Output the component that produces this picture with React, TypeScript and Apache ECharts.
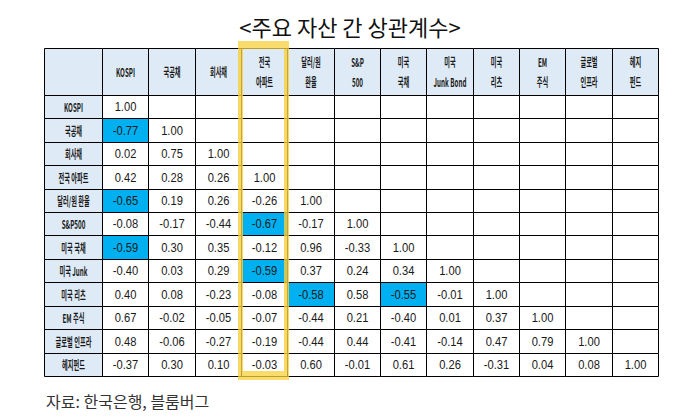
import React, { useEffect, useRef } from "react";
import * as echarts from "echarts";

const titleText = "<주요 자산 간 상관계수>";
const sourceText = "자료: 한국은행, 블룸버그";

const colLabels = [
  "KOSPI", "국공채", "회사채", "전국\n아파트", "달러/원\n환율", "S&P\n500",
  "미국\n국채", "미국\nJunk Bond", "미국\n리츠", "EM\n주식", "글로벌\n인프라", "헤지\n펀드",
];

const rowLabels = [
  "KOSPI", "국공채", "회사채", "전국 아파트", "달러/원 환율", "S&P500",
  "미국 국채", "미국 Junk", "미국 리츠", "EM 주식", "글로벌 인프라", "헤지펀드",
];

// lower triangle of the correlation matrix, row by row
const corr: number[][] = [
  [1.0],
  [-0.77, 1.0],
  [0.02, 0.75, 1.0],
  [0.42, 0.28, 0.26, 1.0],
  [-0.65, 0.19, 0.26, -0.26, 1.0],
  [-0.08, -0.17, -0.44, -0.67, -0.17, 1.0],
  [-0.59, 0.3, 0.35, -0.12, 0.96, -0.33, 1.0],
  [-0.4, 0.03, 0.29, -0.59, 0.37, 0.24, 0.34, 1.0],
  [0.4, 0.08, -0.23, -0.08, -0.58, 0.58, -0.55, -0.01, 1.0],
  [0.67, -0.02, -0.05, -0.07, -0.44, 0.21, -0.4, 0.01, 0.37, 1.0],
  [0.48, -0.06, -0.27, -0.19, -0.44, 0.44, -0.41, -0.14, 0.47, 0.79, 1.0],
  [-0.37, 0.3, 0.1, -0.03, 0.6, -0.01, 0.61, 0.26, -0.31, 0.04, 0.08, 1.0],
];

const highlightBelow = -0.55;

const HEADER_BG = "#DEEAF6";
const HIGHLIGHT_BG = "#00B0F0";
const LABEL_W = 1.25; // first column is wider than a data column
const HEADER_H = 2; // header row is two rows tall

type Cell = { x0: number; y0: number; x1: number; y1: number; text: string; fill: string; label: boolean };

const buildCells = (): Cell[] => {
  const cells: Cell[] = [];
  const n = colLabels.length;
  cells.push({ x0: -LABEL_W, y0: -HEADER_H, x1: 0, y1: 0, text: "", fill: HEADER_BG, label: true });
  colLabels.forEach((t, c) => {
    cells.push({ x0: c, y0: -HEADER_H, x1: c + 1, y1: 0, text: t, fill: HEADER_BG, label: true });
  });
  rowLabels.forEach((t, r) => {
    cells.push({ x0: -LABEL_W, y0: r, x1: 0, y1: r + 1, text: t, fill: HEADER_BG, label: true });
    for (let c = 0; c < n; c++) {
      const v = corr[r][c];
      const has = v !== undefined;
      cells.push({
        x0: c, y0: r, x1: c + 1, y1: r + 1,
        text: has ? v.toFixed(2) : "",
        fill: has && v <= highlightBelow ? HIGHLIGHT_BG : "#ffffff",
        label: false,
      });
    }
  });
  return cells;
};

const CorrTable: React.FC = () => {
  const chartRef = useRef<HTMLDivElement>(null);

  useEffect(() => {
    if (!chartRef.current) return;
    const myChart = echarts.init(chartRef.current, null, { renderer: "svg" });
    const cells = buildCells();

    const options = {
      animation: false,
      title: [
        {
          text: titleText,
          left: "center",
          top: 10,
          textStyle: { fontFamily: "Noto Sans CJK KR", fontSize: 22, fontWeight: "normal", color: "#111" },
        },
        {
          text: sourceText,
          left: 41,
          top: 388,
          textStyle: { fontFamily: "Noto Sans CJK KR", fontSize: 16, fontWeight: "normal", color: "#333" },
        },
      ],
      grid: { left: 44, right: 42, top: 48, bottom: 42 },
      xAxis: { type: "value", min: -LABEL_W, max: colLabels.length, show: false },
      yAxis: { type: "value", min: -HEADER_H, max: rowLabels.length, inverse: true, show: false },
      series: [
        {
          type: "custom",
          data: cells.map((c) => [c.x0, c.y0, c.x1, c.y1]),
          renderItem: (params: any, api: any) => {
            const cell = cells[params.dataIndex];
            const p0 = api.coord([api.value(0), api.value(1)]);
            const p1 = api.coord([api.value(2), api.value(3)]);
            const x = Math.round(p0[0]) + 0.5;
            const y = Math.round(p0[1]) + 0.5;
            const w = Math.round(p1[0]) - Math.round(p0[0]);
            const h = Math.round(p1[1]) - Math.round(p0[1]);
            return {
              type: "group",
              children: [
                {
                  type: "rect",
                  shape: { x, y, width: w, height: h },
                  style: { fill: cell.fill, stroke: "#000", lineWidth: 1 },
                },
                {
                  type: "text",
                  x: x + w / 2,
                  y: y + h / 2,
                  scaleX: cell.label ? 0.52 : 0.86,
                  style: {
                    text: cell.text,
                    align: "center",
                    verticalAlign: "middle",
                    fill: "#1a1a1a",
                    fontFamily: cell.label ? "Noto Sans CJK KR" : "Liberation Sans",
                    fontWeight: cell.label ? "bold" : "normal",
                    fontSize: cell.label ? 12 : 13,
                    lineHeight: 20,
                  },
                },
              ],
            };
          },
        },
      ],
      graphic: [
        { type: "rect", z: 100, shape: { x: 238, y: 41, width: 51, height: 8 }, style: { fill: "rgba(248,208,60,0.75)" } },
        { type: "rect", z: 100, shape: { x: 238, y: 49, width: 5, height: 322 }, style: { fill: "rgba(248,208,60,0.8)" } },
        { type: "rect", z: 100, shape: { x: 284, y: 49, width: 5, height: 322 }, style: { fill: "rgba(248,208,60,0.8)" } },
        { type: "rect", z: 100, shape: { x: 238, y: 371, width: 51, height: 9 }, style: { fill: "rgba(248,208,60,0.75)" } },
      ],
    };

    myChart.setOption(options);

    return () => {
      myChart.dispose();
    };
  }, []);

  return (
    <div
      ref={chartRef}
      style={{ position: "absolute", left: 0, top: 0, width: "700px", height: "418px", background: "#fff" }}
    />
  );
};

export default CorrTable;
